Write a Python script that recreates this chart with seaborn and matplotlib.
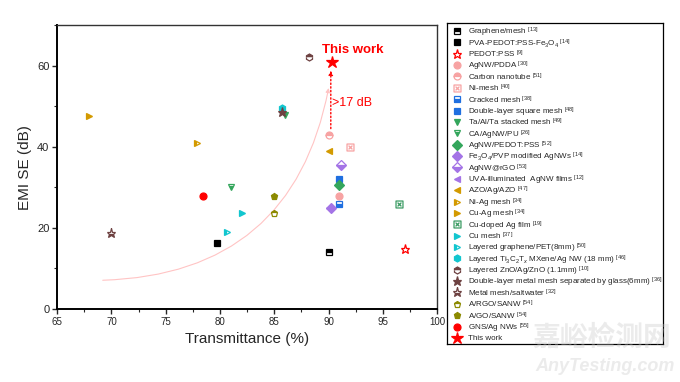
import matplotlib
matplotlib.use('Agg')
import matplotlib.pyplot as plt
from matplotlib.path import Path
from matplotlib.ticker import MultipleLocator
import seaborn as sns

# ─── Data ────────────────────────────────────────────────────────────────────

labels = [
    'Graphene/mesh $^{[13]}$',
    'PVA-PEDOT:PSS-Fe$_3$O$_4$ $^{[14]}$',
    'PEDOT:PSS $^{[9]}$',
    'AgNW/PDDA $^{[30]}$',
    'Carbon nanotube $^{[51]}$',
    'Ni-mesh $^{[40]}$',
    'Cracked mesh $^{[38]}$',
    'Double-layer square mesh $^{[48]}$',
    'Ta/Al/Ta stacked mesh $^{[49]}$',
    'CA/AgNW/PU $^{[26]}$',
    'AgNW/PEDOT:PSS $^{[52]}$',
    'Fe$_3$O$_4$/PVP modified AgNWs $^{[14]}$',
    'AgNW@rGO $^{[53]}$',
    'UVA-illuminated  AgNW films $^{[12]}$',
    'AZO/Ag/AZO $^{[47]}$',
    'Ni-Ag mesh $^{[34]}$',
    'Cu-Ag mesh $^{[34]}$',
    'Cu-doped Ag film $^{[19]}$',
    'Cu mesh $^{[37]}$',
    'Layered graphene/PET(8mm) $^{[50]}$',
    'Layered Ti$_3$C$_2$T$_x$ MXene/Ag NW (18 mm) $^{[46]}$',
    'Layered ZnO/Ag/ZnO (1.1mm) $^{[10]}$',
    'Double-layer metal mesh separated by glass(6mm) $^{[36]}$',
    'Metal mesh/saltwater $^{[32]}$',
    'A/RGO/SANW $^{[54]}$',
    'A/GO/SANW $^{[54]}$',
    'GNS/Ag NWs $^{[55]}$',
    'This work',
]

transmittance = [90.0, 79.7, 97.0, 91.0, 90.0, 92.0, 91.0, 91.0, 86.0, 81.0,
                 91.0, 90.2, 91.1, 90.0, 90.0, 77.9, 67.9, 96.5, 82.0, 80.6,
                 85.7, 88.2, 85.7, 70.0, 85.0, 85.0, 78.4, 90.3]

emi_se = [14.0, 16.3, 14.9, 28.0, 43.0, 40.0, 26.0, 32.0, 47.8, 30.2,
          30.5, 24.8, 35.6, 24.8, 38.9, 41.0, 47.5, 26.0, 23.8, 19.0,
          49.5, 62.1, 48.5, 18.8, 23.8, 28.0, 28.0, 60.9]

# ─── Marker styles ───────────────────────────────────────────────────────────

# open square with a cross inside (Ni-mesh / Cu-doped Ag film)
BOXX = Path(
    [(-1, -1), (1, -1), (1, 1), (-1, 1), (-1, -1),
     (-0.55, -0.55), (0.55, 0.55), (-0.55, 0.55), (0.55, -0.55)],
    [Path.MOVETO, Path.LINETO, Path.LINETO, Path.LINETO, Path.CLOSEPOLY,
     Path.MOVETO, Path.LINETO, Path.MOVETO, Path.LINETO],
)

PINK, BLUE, GREEN, PURPLE = '#F7A3A3', '#1F6FE0', '#34A65C', '#A474E6'
GOLD, CYAN, BROWN, OLIVE = '#D39A00', '#12C6CF', '#6E4242', '#8C8A00'

colors = ['black', 'black', 'red', PINK, PINK, PINK, BLUE, BLUE, GREEN, GREEN,
          GREEN, PURPLE, PURPLE, PURPLE, GOLD, GOLD, GOLD, '#3A9A62', CYAN, CYAN,
          CYAN, BROWN, BROWN, BROWN, OLIVE, OLIVE, 'red', 'red']
markers = ['s', 's', '*', 'o', 'o', BOXX, 's', 's', 'v', 'v',
           'D', 'D', 'D', '<', '<', '>', '>', BOXX, '>', '>',
           'h', 'h', '*', '*', 'p', 'p', 'o', '*']
fills = ['top', 'full', 'none', 'full', 'top', 'none', 'bottom', 'full', 'full', 'bottom',
         'full', 'full', 'bottom', 'full', 'full', 'left', 'full', 'none', 'full', 'left',
         'full', 'top', 'full', 'bottom', 'top', 'full', 'full', 'full']

sns.set_theme(style='ticks')
plt.rcParams['font.family'] = ['Liberation Sans', 'DejaVu Sans']
plt.rcParams['mathtext.fontset'] = 'custom'
plt.rcParams['mathtext.rm'] = 'Liberation Sans'
plt.rcParams['mathtext.it'] = 'Liberation Sans:italic'
plt.rcParams['mathtext.bf'] = 'Liberation Sans:bold'

fig = plt.figure(figsize=(6.8, 3.82), dpi=100)
ax = fig.add_axes([0.084, 0.191, 0.559, 0.743])
# legend drawn in its own box so that all rows get the same pitch
lax = fig.add_axes([447 / 680, 38 / 382, 216 / 680, 321 / 382])


def marker_size(lab, m):
    if lab == 'This work':
        return 9
    return 6.5 if m == '*' else 5


for i, (lab, x, y, c, m, fs) in enumerate(zip(labels, transmittance, emi_se,
                                              colors, markers, fills)):
    style = dict(linestyle='none', marker=m, color=c, markersize=marker_size(lab, m),
                 fillstyle=fs, markerfacecoloralt='white', markeredgecolor=c,
                 markeredgewidth=0.9)
    ax.plot([x], [y], zorder=3, **style)
    lax.plot([0.046], [i + 0.7], **style)
    lax.text(0.097, i + 0.65, lab, fontsize=5.8, ha='left', va='center_baseline')

lax.set_xlim(0, 1)
lax.set_ylim(len(labels) + 0.23, 0)
lax.set_xticks([])
lax.set_yticks([])
for s in lax.spines.values():
    s.set_visible(True)
    s.set_linewidth(0.9)
    s.set_color('black')

# trend curve and the improvement arrow
ax.annotate('', xy=(90.0, 54.5), xytext=(69.2, 7.1),
            arrowprops=dict(arrowstyle='-|>', color='#FFC4C4', lw=0.8,
                            connectionstyle='arc3,rad=0.4', shrinkA=0, shrinkB=0,
                            mutation_scale=6), zorder=1)
ax.annotate('', xy=(90.2, 58.8), xytext=(90.2, 44.5),
            arrowprops=dict(arrowstyle='-|>', color='red', lw=1.0, ls=':',
                            shrinkA=0, shrinkB=0, mutation_scale=6), zorder=2)
ax.text(92.2, 63.8, 'This work', color='red', fontsize=9.5, fontweight='bold',
        ha='center', va='center')
ax.text(90.35, 50.8, '>17 dB', color='red', fontsize=9, ha='left', va='center')

ax.set_xlim(65, 100)
ax.set_ylim(0, 70)
ax.set_xticks(range(65, 101, 5))
ax.set_yticks([0, 20, 40, 60])
ax.xaxis.set_minor_locator(MultipleLocator(2.5))
ax.yaxis.set_minor_locator(MultipleLocator(10))
ax.tick_params(axis='x', which='major', labelsize=7, length=3.5, width=1, direction='out', pad=2)
ax.tick_params(axis='y', which='major', labelsize=8, length=3.5, width=1, direction='out', pad=2)
ax.tick_params(which='minor', length=2, width=0.8, direction='out')
ax.set_xlabel('Transmittance (%)', fontsize=11, labelpad=4)
ax.set_ylabel('EMI SE (dB)', fontsize=11, labelpad=4)
for side in ['left', 'bottom']:
    ax.spines[side].set_linewidth(1.4)
    ax.spines[side].set_color('black')
for side in ['top', 'right']:
    ax.spines[side].set_visible(True)
    ax.spines[side].set_linewidth(1.0)
    ax.spines[side].set_color('#333333')

# faint site watermark
fig.text(0.885, 0.115, '嘉峪检测网', fontsize=20, fontweight='bold', color='#C8C8C8',
         alpha=0.35, ha='center', va='center', family=['Noto Sans CJK SC', 'DejaVu Sans'])
fig.text(0.89, 0.04, 'AnyTesting.com', fontsize=13, fontweight='bold', style='italic',
         color='#C8C8C8', alpha=0.35, ha='center', va='center')

fig.savefig('out.png', dpi=100)
